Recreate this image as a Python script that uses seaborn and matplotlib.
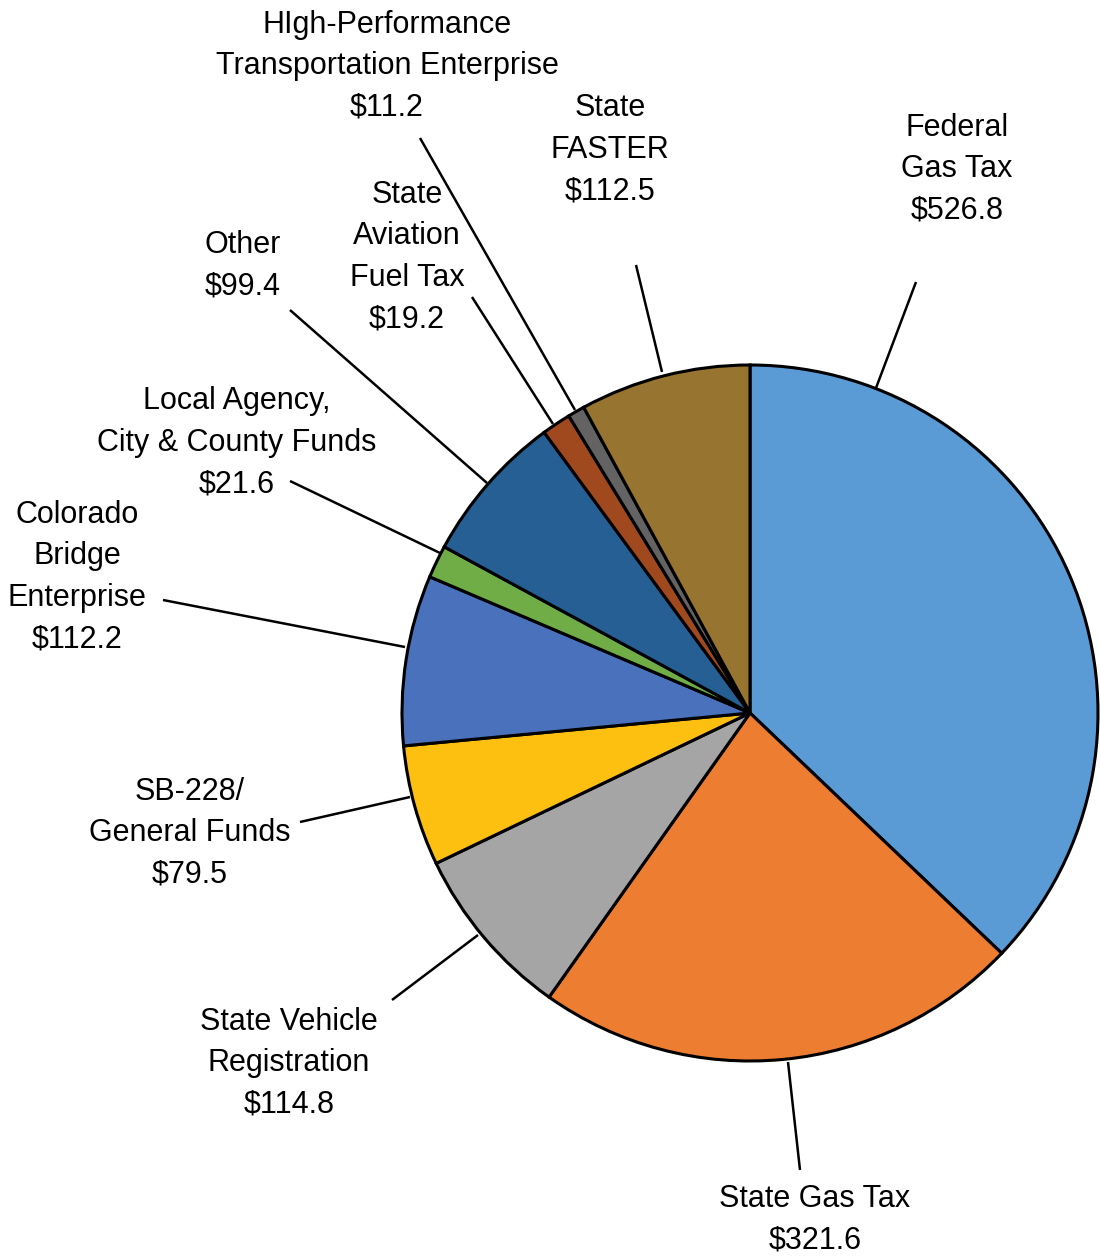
import matplotlib
matplotlib.use("Agg")
import matplotlib.pyplot as plt
import seaborn as sns

# ---- data ----
categories = [
    "Federal\nGas Tax",
    "State Gas Tax",
    "State Vehicle\nRegistration",
    "SB-228/\nGeneral Funds",
    "Colorado\nBridge\nEnterprise",
    "Local Agency,\nCity & County Funds",
    "Other",
    "State\nAviation\nFuel Tax",
    "HIgh-Performance\nTransportation Enterprise",
    "State\nFASTER",
]
values = [526.8, 321.6, 114.8, 79.5, 112.2, 21.6, 99.4, 19.2, 11.2, 112.5]
value_labels = ["$526.8", "$321.6", "$114.8", "$79.5", "$112.2", "$21.6",
                "$99.4", "$19.2", "$11.2", "$112.5"]
colors = ["#5B9BD5", "#ED7D31", "#A5A5A5", "#FDC010", "#4A71BC", "#70AD47",
          "#255F93", "#A0491E", "#636363", "#977430"]

sns.set_theme(style="white")
plt.rcParams["font.family"] = ["Liberation Sans Narrow", "Liberation Sans", "DejaVu Sans"]

W, H = 1100, 1257
fig = plt.figure(figsize=(W / 100, H / 100), dpi=100)
ax = fig.add_axes([0, 0, 1, 1])

def Y(py):
    return H - py

palette = sns.color_palette(colors)
ax.pie(values, colors=palette, startangle=90, counterclock=False,
       center=(750, Y(713)), radius=348,
       wedgeprops=dict(edgecolor="black", linewidth=2.2))
ax.set_xlim(0, W)
ax.set_ylim(0, H)
ax.axis("off")

# layout: text centre (px) and leader line (px)
text_pos = [(957, 169), (815, 1220), (289, 1063), (190, 833), (77, 577),
            (237, 443), (243, 266), (407, 257), (387, 66), (610, 150)]
leaders = [((916, 282), (876, 388)),
           ((800, 1170), (788, 1062)),
           ((392, 1000), (478, 935)),
           ((300, 822), (410, 797)),
           ((163, 600), (405, 647)),
           ((290, 481), (440, 553)),
           ((290, 310), (487, 483)),
           ((472, 297), (553, 424)),
           ((420, 138), (575, 410)),
           ((636, 265), (662, 372))]

for cat, vl, (tx, ty), ((x0, y0), (x1, y1)) in zip(categories, value_labels, text_pos, leaders):
    ax.text(tx, Y(ty), cat + "\n" + vl, ha="center", va="center",
            fontsize=22, linespacing=1.5, color="black")
    ax.plot([x0, x1], [Y(y0), Y(y1)], color="black", linewidth=1.8,
            solid_capstyle="butt")

fig.savefig("out.png", dpi=100, facecolor="white")
